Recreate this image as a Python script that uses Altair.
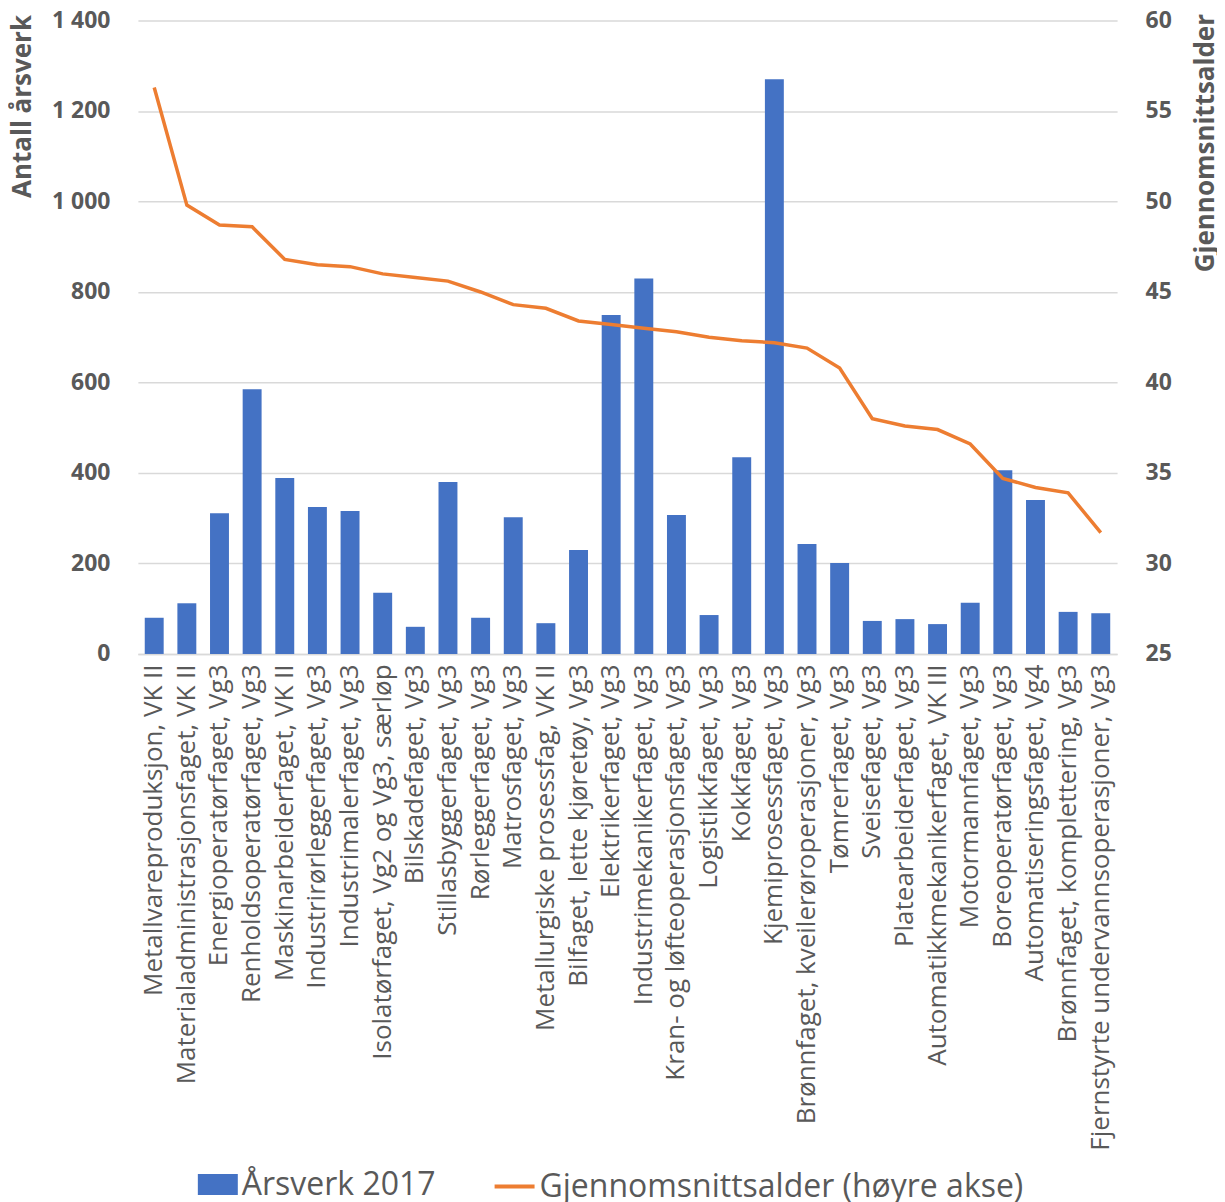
import altair as alt
import pandas as pd

categories = [
    "Metallvareproduksjon, VK II",
    "Materialadministrasjonsfaget, VK II",
    "Energioperatørfaget, Vg3",
    "Renholdsoperatørfaget, Vg3",
    "Maskinarbeiderfaget, VK II",
    "Industrirørleggerfaget, Vg3",
    "Industrimalerfaget, Vg3",
    "Isolatørfaget, Vg2 og Vg3, særløp",
    "Bilskadefaget, Vg3",
    "Stillasbyggerfaget, Vg3",
    "Rørleggerfaget, Vg3",
    "Matrosfaget, Vg3",
    "Metallurgiske prosessfag, VK II",
    "Bilfaget, lette kjøretøy, Vg3",
    "Elektrikerfaget, Vg3",
    "Industrimekanikerfaget, Vg3",
    "Kran- og løfteoperasjonsfaget, Vg3",
    "Logistikkfaget, Vg3",
    "Kokkfaget, Vg3",
    "Kjemiprosessfaget, Vg3",
    "Brønnfaget, kveilerøroperasjoner, Vg3",
    "Tømrerfaget, Vg3",
    "Sveisefaget, Vg3",
    "Platearbeiderfaget, Vg3",
    "Automatikkmekanikerfaget, VK III",
    "Motormannfaget, Vg3",
    "Boreoperatørfaget, Vg3",
    "Automatiseringsfaget, Vg4",
    "Brønnfaget, komplettering, Vg3",
    "Fjernstyrte undervannsoperasjoner, Vg3",
]

arsverk = [80, 112, 311, 585, 389, 325, 316, 135, 60, 380,
           80, 302, 68, 230, 749, 830, 307, 86, 435, 1270,
           243, 201, 73, 77, 66, 113, 406, 340, 93, 90]

alder = [56.3, 49.8, 48.7, 48.6, 46.8, 46.5, 46.4, 46.0, 45.8, 45.6,
         45.0, 44.3, 44.1, 43.4, 43.2, 43.0, 42.8, 42.5, 42.3, 42.2,
         41.9, 40.8, 38.0, 37.6, 37.4, 36.6, 34.7, 34.2, 33.9, 31.7]

left_ticks = [0, 200, 400, 600, 800, 1000, 1200, 1400]
right_ticks = [25, 30, 35, 40, 45, 50, 55, 60]

bar_name = "Årsverk 2017"
line_name = "Gjennomsnittsalder (høyre akse)"

df = pd.DataFrame({
    "kategori": categories,
    "arsverk": arsverk,
    "alder": alder,
    "s_bar": [bar_name] * len(categories),
    "s_line": [line_name] * len(categories),
})

FONT = "Open Sans"
GREY = "#595959"

x_enc = alt.X(
    "kategori:N",
    sort=categories,
    title=None,
    scale=alt.Scale(paddingInner=0.42, paddingOuter=0.21),
    axis=alt.Axis(
        labelAngle=270,
        labelAlign="right",
        labelBaseline="middle",
        labelFont=FONT,
        labelFontSize=26,
        labelColor=GREY,
        labelLimit=700,
        labelPadding=10,
        ticks=False,
        domain=True,
        domainColor="#D9D9D9",
        domainWidth=1.5,
        grid=False,
    ),
)

bars = alt.Chart(df).mark_bar(color="#4472C4").encode(
    x=x_enc,
    y=alt.Y(
        "arsverk:Q",
        scale=alt.Scale(domain=[0, 1400], nice=False),
        axis=alt.Axis(
            values=left_ticks,
            labelExpr="replace(format(datum.value, ','), ',', ' ')",
            labelFont=FONT,
            labelFontSize=23,
            labelFontWeight="bold",
            labelColor=GREY,
            labelPadding=28,
            ticks=False,
            domain=False,
            grid=True,
            gridColor="#D9D9D9",
            gridWidth=1.5,
            title="Antall årsverk",
            titleFont=FONT,
            titleFontSize=26,
            titleFontWeight="bold",
            titleColor=GREY,
            titleAngle=270,
            titleAnchor="end",
            titleAlign="right",
            titleBaseline="middle",
            titleX=-115,
            titleY=-6,
        ),
    ),
    fill=alt.Fill(
        "s_bar:N",
        scale=alt.Scale(range=["#4472C4"]),
        legend=alt.Legend(
            title=None,
            orient="none",
            legendX=60,
            legendY=1145,
            symbolType="M-1,-0.53H1V0.53H-1Z",
            symbolSize=1600,
            symbolStrokeWidth=0,
            labelFont=FONT,
            labelFontSize=32,
            labelColor=GREY,
            labelOffset=4,
            padding=0,
            labelLimit=600,
        ),
    ),
)

line = alt.Chart(df).mark_line(color="#ED7D31", strokeWidth=3.5).encode(
    x=x_enc,
    y=alt.Y(
        "alder:Q",
        scale=alt.Scale(domain=[25, 60], nice=False, zero=False),
        axis=alt.Axis(
            orient="right",
            values=right_ticks,
            labelFont=FONT,
            labelFontSize=23,
            labelFontWeight="bold",
            labelColor=GREY,
            labelPadding=28,
            ticks=False,
            domain=False,
            grid=False,
            title="Gjennomsnittsalder",
            titleFont=FONT,
            titleFontSize=26,
            titleFontWeight="bold",
            titleColor=GREY,
            titleAngle=270,
            titleAnchor="end",
            titleAlign="right",
            titleBaseline="middle",
            titleX=88,
            titleY=-7,
        ),
    ),
    stroke=alt.Stroke(
        "s_line:N",
        scale=alt.Scale(range=["#ED7D31"]),
        legend=alt.Legend(
            title=None,
            orient="none",
            legendX=355,
            legendY=1145,
            symbolType="stroke",
            symbolSize=1600,
            symbolStrokeWidth=4,
            labelFont=FONT,
            labelFontSize=32,
            labelColor=GREY,
            labelOffset=3,
            padding=0,
            labelLimit=700,
        ),
    ),
)

chart = (
    alt.layer(bars, line)
    .resolve_scale(y="independent", fill="independent", stroke="independent")
    .properties(
        width=980,
        height=634,
        autosize=alt.AutoSizeParams(type="none"),
        padding={"left": 130, "top": 12, "right": 100, "bottom": 548},
    )
    .configure_view(stroke=None)
)

chart.save("out.html", embed_options={"renderer": "svg", "actions": False})
